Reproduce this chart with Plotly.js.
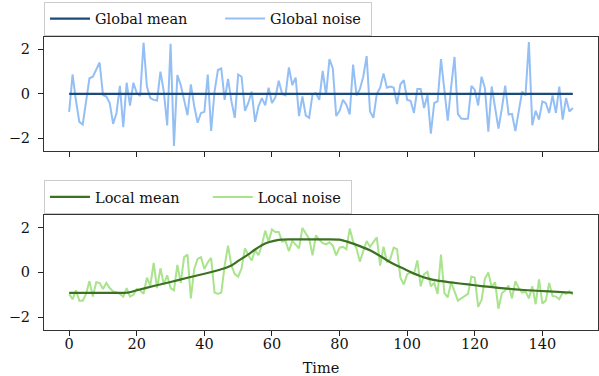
<!DOCTYPE html>
<html>
<head>
<meta charset="utf-8">
<script src="https://cdn.plot.ly/plotly-3.0.1.min.js"></script>
<style>
html,body{margin:0;padding:0;background:#fff;}
#chart{width:599px;height:376px;}
</style>
</head>
<body>
<div id="chart"></div>
<script>
// ---- data ----
var timeSteps = [];
for (var t = 0; t < 150; t++) timeSteps.push(t);

var globalMeanX = [0, 149];
var globalMeanY = [0, 0];

var globalNoise = [
 -0.81,0.87,-0.3,-1.26,-1.38,-0.3,0.70,0.77,1.07,1.41,
 -0.05,-0.12,-0.41,-1.35,-0.86,0.36,-1.5,0.5,-0.53,0.5,
 0.03,-0.09,2.3,0.33,-0.19,-0.27,-0.3,1.0,0.1,-1.42,
 2.25,-2.34,0.84,0.4,-0.27,-0.96,0.43,-0.56,-1.3,-0.86,
 -0.81,0.87,-1.67,0.1,1.07,1.14,-0.27,0.67,-0.34,-1.08,
 0.87,0.77,-0.76,-0.41,0.1,-1.26,-0.56,-0.19,-0.52,0.28,
 -0.41,-0.16,0.59,-0.01,-0.07,1.19,0.4,0.73,-1.0,-0.12,
 -0.98,-1.08,-0.01,0.03,-0.27,1.03,-0.05,1.56,1.14,-1.0,
 -0.76,-0.27,-0.49,-0.93,1.32,-0.07,0.21,0.77,1.7,-0.79,
 -1.08,-0.01,0.28,0.92,0.28,0.33,0.28,-0.46,0.43,0.62,
 -0.27,-0.31,-0.86,0.22,0.22,-0.64,-0.05,-1.79,-0.41,-0.34,
 1.56,0.28,-1.2,0.3,1.66,-0.9,-1.11,-1.13,-1.11,0.36,
 0.18,-0.52,0.77,0.25,-1.7,0.33,-0.67,-1.56,-0.67,0.37,
 -0.93,-0.9,-1.67,-0.86,0.1,-0.07,2.33,-1.41,-0.76,-1.16,
 -0.34,-0.41,-0.86,-0.07,-0.86,0.33,-1.16,-0.19,-0.79,-0.64
];

var localMeanX = [0,10,17,20,25,30,35,40,45,48,50,53,55,57,59,62,65,70,75,80,82,84,86,89,91,94,96,99,101,104,106,109,113,118,122,127,132,137,142,149];
var localMeanY = [-0.91,-0.91,-0.91,-0.80,-0.61,-0.43,-0.24,-0.06,0.14,0.31,0.51,0.80,1.02,1.21,1.34,1.45,1.47,1.47,1.47,1.46,1.38,1.28,1.17,0.985,0.82,0.54,0.37,0.16,0.02,-0.17,-0.27,-0.37,-0.45,-0.54,-0.61,-0.69,-0.76,-0.81,-0.85,-0.91];

var localNoise = [
 -0.96,-1.2,-0.8,-1.26,-1.26,-0.96,-0.39,-1.08,-0.44,-0.47,
 -0.74,-0.47,-0.7,-0.85,-0.9,-0.96,-1.08,-0.7,-1.08,-1.0,
 -0.74,-0.8,-0.96,-0.24,-0.59,0.42,-0.7,0.18,-0.54,-0.13,
 -0.7,-0.8,0.33,-0.47,0.68,0.79,-1.16,0.15,0.6,0.68,
 0.15,0.45,0.64,-0.9,-0.96,-0.9,0.3,1.19,0.3,-0.08,
 -0.19,0.18,1.07,0.76,0.53,0.99,0.76,1.22,1.86,1.37,
 1.91,1.8,1.8,1.37,1.4,0.94,1.4,1.25,1.07,1.98,
 1.75,1.49,0.76,1.65,1.45,1.3,1.25,1.34,1.19,0.76,
 1.1,1.14,1.03,1.95,1.37,1.07,0.48,0.94,1.4,1.14,
 1.34,1.56,0.3,1.14,0.45,0.6,1.1,1.03,-0.24,-0.54,
 -0.08,-0.01,-0.08,0.53,-0.62,-0.08,0.02,-0.62,-0.47,-0.96,
 0.79,-0.93,-1.11,-0.45,-0.85,-1.26,-1.16,-1.05,-0.96,-0.19,
 -0.24,-1.54,-1.23,-0.28,-0.01,-0.65,-0.44,-1.62,-0.93,-0.8,
 -0.59,-1.16,-0.39,-0.7,-0.9,-0.85,-1.16,-0.62,-1.42,-0.31,
 -1.39,-1.26,-0.47,-1.05,-1.08,-1.2,-0.9,-0.96,-0.85,-1.0
];

var xTicks = [0,20,40,60,80,100,120,140];
var yTicks = [-2,0,2];
var yTickText = ['\u22122', '0', '2'];
var seriesNames = ['Global mean', 'Global noise', 'Local mean', 'Local noise'];

// ---- styling ----
var FONT = 'DejaVu Serif';
var FS = 14.5;
function pad(n) { return new Array(n + 1).join('\u00a0'); }
var C_GMEAN = '#1a4a7c', C_GNOISE = '#94bff5', C_LMEAN = '#3b7222', C_LNOISE = '#a9e38c';

var traces = [
  {x: timeSteps, y: globalNoise, name: seriesNames[1] + pad(1), mode: 'lines', line: {color: C_GNOISE, width: 2}, xaxis: 'x', yaxis: 'y', legend: 'legend', legendrank: 2},
  {x: globalMeanX, y: globalMeanY, name: seriesNames[0] + pad(6), mode: 'lines', line: {color: C_GMEAN, width: 2.2}, xaxis: 'x', yaxis: 'y', legend: 'legend', legendrank: 1},
  {x: timeSteps, y: localNoise, name: seriesNames[3] + pad(1), mode: 'lines', line: {color: C_LNOISE, width: 2}, xaxis: 'x2', yaxis: 'y2', legend: 'legend2', legendrank: 2},
  {x: localMeanX, y: localMeanY, name: seriesNames[2] + pad(5), mode: 'lines', line: {color: C_LMEAN, width: 2.2, shape: 'spline', smoothing: 0.6}, xaxis: 'x2', yaxis: 'y2', legend: 'legend2', legendrank: 1}
];

var axisCommon = {
  showline: true, mirror: true, linecolor: '#333', linewidth: 1,
  ticks: 'outside', ticklen: 5, tickwidth: 1, tickcolor: '#222',
  showgrid: false, zeroline: false,
  tickfont: {family: FONT, size: FS, color: '#111'}
};

function ax(extra) { return Object.assign({}, axisCommon, extra); }

var legendCommon = {
  orientation: 'h', x: 0, xanchor: 'left', yanchor: 'top',
  bgcolor: '#ffffff', bordercolor: '#cccccc', borderwidth: 1,
  font: {family: FONT, size: FS, color: '#111'},
  itemwidth: 40, traceorder: 'normal'
};

var layout = {
  width: 599, height: 376,
  margin: {l: 44, r: 1, t: 0, b: 0},
  paper_bgcolor: '#fff', plot_bgcolor: '#fff',
  showlegend: true,
  xaxis: ax({domain: [0, 1], range: [-7.45, 156.45], anchor: 'y', tickvals: xTicks, showticklabels: false}),
  yaxis: ax({domain: [0.5984, 0.9024], range: [-2.57, 2.57], anchor: 'x', tickvals: yTicks, ticktext: yTickText, ticklabelstandoff: 5}),
  xaxis2: ax({domain: [0, 1], range: [-7.45, 156.45], anchor: 'y2', matches: 'x', tickvals: xTicks, ticklabelstandoff: -4,
    title: {text: 'Time', font: {family: FONT, size: FS, color: '#111'}, standoff: 12}}),
  yaxis2: ax({domain: [0.1223, 0.4290], range: [-2.57, 2.57], anchor: 'x2', tickvals: yTicks, ticktext: yTickText, ticklabelstandoff: 5}),
  legend: Object.assign({}, legendCommon, {y: 0.9955}),
  legend2: Object.assign({}, legendCommon, {y: 0.5213})
};

Plotly.newPlot('chart', traces, layout, {displayModeBar: false, staticPlot: true});
</script>
</body>
</html>
